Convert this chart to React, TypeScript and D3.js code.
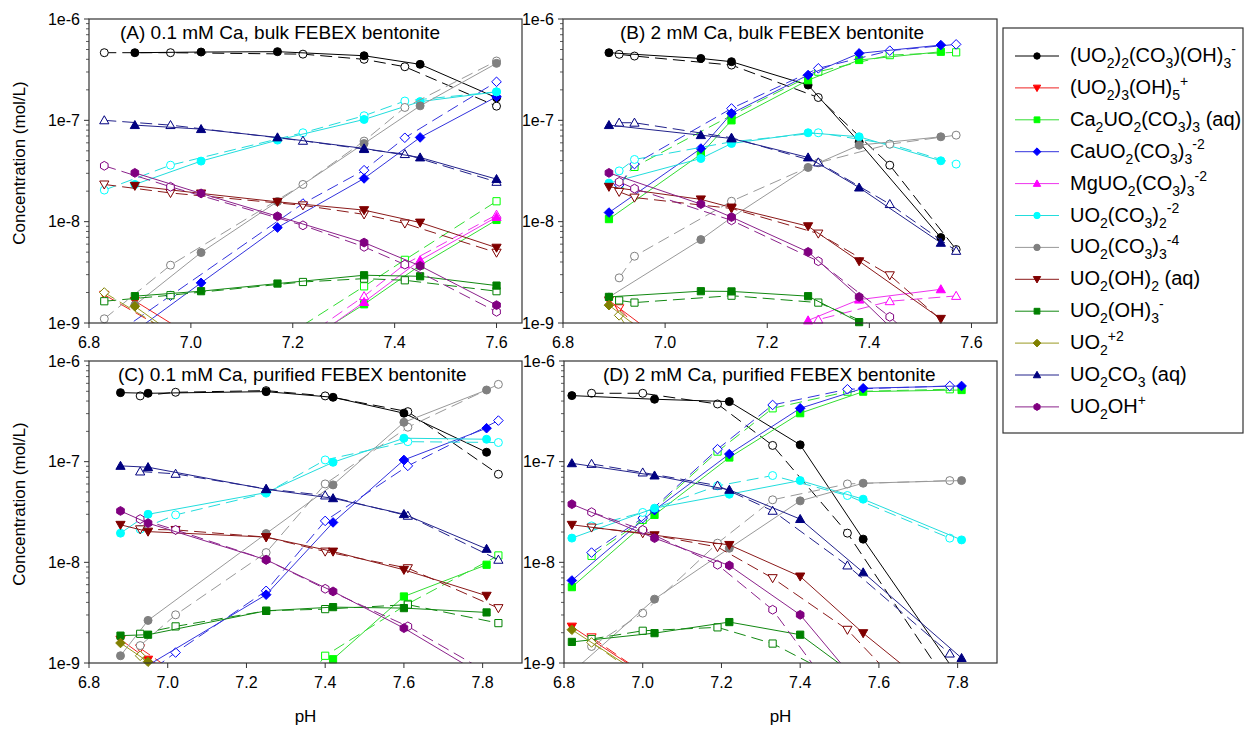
import React from 'react';
import * as d3 from 'd3';

// ---------- species ----------
const speciesColors = ['#000000', '#ff0000', '#00ff00', '#0000ff', '#ff00ff', '#00ffff', '#808080', '#800000', '#008000', '#808000', '#000080', '#800080'];
const lineColors = ['#000000', '#ee2222', '#33dd33', '#3333dd', '#ee33ee', '#22dddd', '#999999', '#8b1a1a', '#118811', '#999922', '#22228b', '#8b228b'];
const speciesShapes = ['circle', 'triDown', 'square', 'diamond', 'triUp', 'circle', 'circle', 'triDown', 'square', 'diamond', 'triUp', 'hexagon'];

type Seg = [string, string];
const speciesLabels: Seg[][] = [
  [['(UO', 'n'], ['2', 'b'], [')', 'n'], ['2', 'b'], ['(CO', 'n'], ['3', 'b'], [')(OH)', 'n'], ['3', 'b'], ['-', 'p']],
  [['(UO', 'n'], ['2', 'b'], [')', 'n'], ['3', 'b'], ['(OH)', 'n'], ['5', 'b'], ['+', 'p']],
  [['Ca', 'n'], ['2', 'b'], ['UO', 'n'], ['2', 'b'], ['(CO', 'n'], ['3', 'b'], [')', 'n'], ['3', 'b'], [' (aq)', 'n']],
  [['CaUO', 'n'], ['2', 'b'], ['(CO', 'n'], ['3', 'b'], [')', 'n'], ['3', 'b'], ['-2', 'p']],
  [['MgUO', 'n'], ['2', 'b'], ['(CO', 'n'], ['3', 'b'], [')', 'n'], ['3', 'b'], ['-2', 'p']],
  [['UO', 'n'], ['2', 'b'], ['(CO', 'n'], ['3', 'b'], [')', 'n'], ['2', 'b'], ['-2', 'p']],
  [['UO', 'n'], ['2', 'b'], ['(CO', 'n'], ['3', 'b'], [')', 'n'], ['3', 'b'], ['-4', 'p']],
  [['UO', 'n'], ['2', 'b'], ['(OH)', 'n'], ['2', 'b'], [' (aq)', 'n']],
  [['UO', 'n'], ['2', 'b'], ['(OH)', 'n'], ['3', 'b'], ['-', 'p']],
  [['UO', 'n'], ['2', 'b'], ['+2', 'p']],
  [['UO', 'n'], ['2', 'b'], ['CO', 'n'], ['3', 'b'], [' (aq)', 'n']],
  [['UO', 'n'], ['2', 'b'], ['OH', 'n'], ['+', 'p']],
];

const panelTitles = [
  '(A) 0.1 mM Ca, bulk FEBEX bentonite',
  '(B) 2 mM Ca, bulk FEBEX bentonite',
  '(C) 0.1 mM Ca, purified FEBEX bentonite',
  '(D) 2 mM Ca, purified FEBEX bentonite',
];

const xTicksAB = [6.8, 7.0, 7.2, 7.4, 7.6];
const xTicksCD = [6.8, 7.0, 7.2, 7.4, 7.6, 7.8];
const yTicks = [1e-9, 1e-8, 1e-7, 1e-6];

type Row = (number | null)[] | null;

// ---------- Panel A ----------
const phA_solid = [6.89, 7.02, 7.17, 7.34, 7.45, 7.60];
const phA_dashed = [6.83, 6.96, 7.22, 7.34, 7.42, 7.60];
const concA_solid: Row[] = [
  [4.65e-7, 4.72e-7, 4.76e-7, 4.34e-7, 3.57e-7, 1.67e-7],
  [1.65e-9, 6.5e-10, null, null, null, null],
  [null, null, 4.4e-10, 1.53e-9, 3.7e-9, 1.04e-8],
  [8.3e-10, 2.49e-9, 8.75e-9, 2.67e-8, 6.78e-8, 1.71e-7],
  [null, null, 4e-10, 1.61e-9, 4.16e-9, 1.11e-8],
  [2.33e-8, 3.96e-8, 6.38e-8, 1.02e-7, 1.53e-7, 1.91e-7],
  [1.5e-9, 4.96e-9, 1.58e-8, 5.9e-8, 1.39e-7, 3.65e-7],
  [2.26e-8, 1.9e-8, 1.57e-8, 1.3e-8, 9.8e-9, 5.54e-9],
  [1.84e-9, 2.06e-9, 2.45e-9, 2.96e-9, 2.89e-9, 2.34e-9],
  [1.46e-9, 5e-10, null, null, null, null],
  [8.97e-8, 8.19e-8, 6.78e-8, 5.28e-8, 4.3e-8, 2.63e-8],
  [3.03e-8, 1.9e-8, 1.13e-8, 6.22e-9, 3.66e-9, 1.5e-9],
];
const concA_dashed: Row[] = [
  [4.65e-7, 4.65e-7, 4.5e-7, 4.0e-7, 3.38e-7, 1.38e-7],
  [1.9e-9, 8e-10, null, null, null, null],
  [null, null, 9.5e-10, 2.3e-9, 4.2e-9, 1.59e-8],
  [6.5e-10, 1.86e-9, 1.51e-8, 3.22e-8, 6.73e-8, 2.4e-7],
  [null, null, 7e-10, 1.84e-9, 3.8e-9, 1.17e-8],
  [2.05e-8, 3.61e-8, 7.54e-8, 1.11e-7, 1.55e-7, 1.91e-7],
  [1.1e-9, 3.72e-9, 2.33e-8, 6.24e-8, 1.34e-7, 3.85e-7],
  [2.33e-8, 1.92e-8, 1.45e-8, 1.18e-8, 9.6e-9, 4.95e-9],
  [1.64e-9, 1.88e-9, 2.54e-9, 2.74e-9, 2.64e-9, 2.06e-9],
  [2.0e-9, 8e-10, null, null, null, null],
  [1.0e-7, 8.97e-8, 6.28e-8, 5.2e-8, 4.64e-8, 2.47e-8],
  [3.56e-8, 2.21e-8, 9.2e-9, 5.64e-9, 3.77e-9, 1.29e-9],
];

// ---------- Panel B ----------
const phB_solid = [6.89, 7.07, 7.13, 7.28, 7.38, 7.54];
const phB_dashed = [6.91, 6.94, 7.13, 7.30, 7.44, 7.57];
const concB_solid: Row[] = [
  [4.65e-7, 4.08e-7, 3.79e-7, 2.23e-7, 6.1e-8, 6.97e-9],
  [1.67e-9, 3.5e-10, null, null, null, null],
  [1.06e-8, 4.63e-8, 1.0e-7, 2.49e-7, 3.94e-7, 4.75e-7],
  [1.23e-8, 5.27e-8, 1.17e-7, 2.8e-7, 4.58e-7, 5.53e-7],
  [null, null, 3e-10, 1.06e-9, 1.7e-9, 2.15e-9],
  [2.4e-8, 4.2e-8, 5.91e-8, 7.54e-8, 6.88e-8, 3.99e-8],
  [1.8e-9, 6.65e-9, 1.1e-8, 3.43e-8, 5.69e-8, 6.88e-8],
  [2.21e-8, 1.66e-8, 1.38e-8, 9.02e-9, 4.07e-9, 1.1e-9],
  [1.81e-9, 2.06e-9, 2.05e-9, 1.84e-9, 1.02e-9, 2e-10],
  [1.5e-9, 3e-10, null, null, null, null],
  [8.97e-8, 7.14e-8, 6.62e-8, 4.3e-8, 2.17e-8, 6.18e-9],
  [3.03e-8, 1.49e-8, 1.11e-8, 5.03e-9, 1.81e-9, 3e-10],
];
const concB_dashed: Row[] = [
  [4.48e-7, 4.31e-7, 3.51e-7, 1.68e-7, 3.61e-8, 5.31e-9],
  [1.4e-9, 9.5e-10, 2e-10, null, null, null],
  [2.3e-8, 3.47e-8, 1.12e-7, 3.02e-7, 4.4e-7, 4.69e-7],
  [2.3e-8, 3.7e-8, 1.31e-7, 3.26e-7, 4.87e-7, 5.62e-7],
  [null, null, 3e-10, 1.08e-9, 1.64e-9, 1.85e-9],
  [3.17e-8, 4.11e-8, 6.14e-8, 7.54e-8, 5.82e-8, 3.7e-8],
  [2.79e-9, 4.56e-9, 1.59e-8, 3.81e-8, 5.82e-8, 7.14e-8],
  [1.97e-8, 1.73e-8, 1.35e-8, 7.64e-9, 2.96e-9, 8e-10],
  [1.67e-9, 1.59e-9, 1.86e-9, 1.59e-9, 8e-10, 3e-10],
  [1.19e-9, 7e-10, null, null, null, null],
  [9.47e-8, 9.47e-8, 6.73e-8, 3.84e-8, 1.49e-8, 5.15e-9],
  [2.47e-8, 2.12e-8, 1.03e-8, 4.07e-9, 1.15e-9, 3e-10],
];

// ---------- Panel C ----------
const phC_solid = [6.88, 6.95, 7.25, 7.42, 7.60, 7.81];
const phC_dashed = [6.93, 7.02, 7.25, 7.40, 7.61, 7.84];
const concC_solid: Row[] = [
  [4.85e-7, 4.78e-7, 4.96e-7, 4.36e-7, 3.03e-7, 1.24e-7],
  [1.71e-9, 1.08e-9, 2.9e-10, null, null, null],
  [null, null, 2e-10, 1.09e-9, 4.58e-9, 9.46e-9],
  [5e-10, 9.5e-10, 4.77e-9, 2.49e-8, 1.04e-7, 2.15e-7],
  null,
  [1.95e-8, 3.0e-8, 4.93e-8, 9.86e-8, 1.71e-7, 1.67e-7],
  [1.18e-9, 2.65e-9, 1.93e-8, 5.88e-8, 2.46e-7, 5.15e-7],
  [2.36e-8, 2.02e-8, 1.78e-8, 1.28e-8, 8.43e-9, 4.66e-9],
  [1.87e-9, 1.91e-9, 3.3e-9, 3.59e-9, 3.51e-9, 3.18e-9],
  [1.58e-9, 1.03e-9, 2e-10, null, null, null],
  [9.08e-8, 8.81e-8, 5.32e-8, 4.33e-8, 3.01e-8, 1.36e-8],
  [3.24e-8, 2.45e-8, 1.06e-8, 5.14e-9, 2.22e-9, 7.2e-10],
];
const concC_dashed: Row[] = [
  [4.5e-7, 4.89e-7, 5.08e-7, 4.5e-7, 3.14e-7, 7.5e-8],
  [1.4e-9, 8e-10, null, null, null, null],
  [null, null, 2e-10, 1.18e-9, 3.87e-9, 1.17e-8],
  [7e-10, 1.27e-9, 5.21e-9, 2.58e-8, 9.08e-8, 2.56e-7],
  null,
  [2.13e-8, 2.96e-8, 4.86e-8, 1.04e-7, 1.58e-7, 1.55e-7],
  [1.49e-9, 3.01e-9, 1.25e-8, 6.01e-8, 2.2e-7, 5.86e-7],
  [2.13e-8, 2.1e-8, 1.78e-8, 1.28e-8, 8.75e-9, 3.51e-9],
  [1.95e-9, 2.31e-9, 3.3e-9, 3.43e-9, 3.8e-9, 2.49e-9],
  [1.18e-9, 5e-10, null, null, null, null],
  [7.98e-8, 7.57e-8, 5.37e-8, 4.61e-8, 2.9e-8, 1.06e-8],
  [2.69e-8, 2.1e-8, 1.06e-8, 5.46e-9, 2.31e-9, 7e-10],
];

// ---------- Panel D ----------
const phD_solid = [6.82, 7.03, 7.22, 7.40, 7.56, 7.81];
const phD_dashed = [6.87, 7.00, 7.19, 7.33, 7.52, 7.78];
const concD_solid: Row[] = [
  [4.53e-7, 4.17e-7, 3.95e-7, 1.47e-7, 1.7e-8, 6.6e-10],
  [2.3e-9, 6.6e-10, null, null, null, null],
  [5.67e-9, 2.96e-8, 1.1e-7, 3.03e-7, 4.96e-7, 5.15e-7],
  [6.6e-9, 3.3e-8, 1.19e-7, 3.39e-7, 5.36e-7, 5.65e-7],
  null,
  [1.74e-8, 3.45e-8, 4.75e-8, 6.49e-8, 4.24e-8, 1.67e-8],
  [8.1e-10, 4.31e-9, 1.38e-8, 4.08e-8, 6.11e-8, 6.49e-8],
  [2.36e-8, 1.86e-8, 1.49e-8, 7.24e-9, 1.98e-9, 3.2e-10],
  [1.62e-9, 1.98e-9, 2.55e-9, 1.91e-9, 6.6e-10, null],
  [2.14e-9, 6.3e-10, null, null, null, null],
  [9.64e-8, 7.28e-8, 5.25e-8, 2.69e-8, 7.94e-9, 1.12e-9],
  [3.78e-8, 1.74e-8, 9.3e-9, 3.01e-9, 5.4e-10, null],
];
const concD_dashed: Row[] = [
  [4.78e-7, 4.78e-7, 3.74e-7, 1.45e-7, 1.95e-8, 5.9e-10],
  [1.8e-9, 8e-10, null, null, null, null],
  [1.16e-8, 2.64e-8, 1.26e-7, 3.39e-7, 4.96e-7, 5.24e-7],
  [1.25e-8, 2.75e-8, 1.33e-7, 3.66e-7, 5.24e-7, 5.65e-7],
  null,
  [2.3e-8, 3.13e-8, 5.75e-8, 7.28e-8, 4.61e-8, 1.74e-8],
  [1.46e-9, 3.13e-9, 1.55e-8, 4.18e-8, 6.01e-8, 6.49e-8],
  [2.22e-8, 1.95e-8, 1.42e-8, 6.97e-9, 2.14e-9, 1.8e-10],
  [1.73e-9, 2.09e-9, 2.26e-9, 1.56e-9, 6.4e-10, null],
  [1.6e-9, 7e-10, null, null, null, null],
  [9.5e-8, 7.8e-8, 5.79e-8, 3.25e-8, 9.3e-9, 1.24e-9],
  [3.15e-8, 2.1e-8, 9.46e-9, 3.38e-9, 3.3e-10, null],
];

// ---------- layout ----------
const FONT = 'Liberation Sans, Arial, Helvetica, sans-serif';

const panels = [
  { key: 'A', left: 89, top: 19, right: 522, bottom: 323, xMax: 7.65, ticks: xTicksAB, phS: phA_solid, phD: phA_dashed, cS: concA_solid, cD: concA_dashed, titleX: 120, yLab: true, xLab: false },
  { key: 'B', left: 563, top: 19, right: 997, bottom: 323, xMax: 7.65, ticks: xTicksAB, phS: phB_solid, phD: phB_dashed, cS: concB_solid, cD: concB_dashed, titleX: 620, yLab: false, xLab: false },
  { key: 'C', left: 89, top: 361, right: 522, bottom: 663, xMax: 7.9, ticks: xTicksCD, phS: phC_solid, phD: phC_dashed, cS: concC_solid, cD: concC_dashed, titleX: 118, yLab: true, xLab: true },
  { key: 'D', left: 564, top: 361, right: 997, bottom: 663, xMax: 7.9, ticks: xTicksCD, phS: phD_solid, phD: phD_dashed, cS: concD_solid, cD: concD_dashed, titleX: 603, yLab: false, xLab: true },
];

function symbolPath(shape: string, s: number): string {
  switch (shape) {
    case 'circle': {
      const r = 4 * s;
      return `M${r},0A${r},${r} 0 1,1 ${-r},0A${r},${r} 0 1,1 ${r},0Z`;
    }
    case 'square': {
      const r = 3.6 * s;
      return `M${-r},${-r}H${r}V${r}H${-r}Z`;
    }
    case 'diamond': {
      const d = 4.8 * s;
      return `M0,${-d}L${d},0L0,${d}L${-d},0Z`;
    }
    case 'triUp': {
      const h = 4.6 * s;
      return `M0,${-h}L${h},${h * 0.75}L${-h},${h * 0.75}Z`;
    }
    case 'triDown': {
      const h = 4.6 * s;
      return `M0,${h}L${h},${-h * 0.75}L${-h},${-h * 0.75}Z`;
    }
    case 'hexagon': {
      const r = 4.4 * s;
      const pts = d3.range(6).map((i) => {
        const a = Math.PI / 2 + (i * Math.PI) / 3;
        return `${(r * Math.cos(a)).toFixed(2)},${(r * Math.sin(a)).toFixed(2)}`;
      });
      return `M${pts.join('L')}Z`;
    }
  }
  return '';
}

function RichText({ segs, x, y, size }: { segs: Seg[]; x: number; y: number; size: number }) {
  let cur = 0;
  const spans = segs.map(([t, k], i) => {
    const target = k === 'b' ? size * 0.3 : k === 'p' ? -size * 0.42 : 0;
    const dy = target - cur;
    cur = target;
    const fs = k === 'n' ? size : size * 0.7;
    return (
      <tspan key={i} dy={dy} fontSize={fs}>
        {t}
      </tspan>
    );
  });
  return (
    <text x={x} y={y} fontSize={size} fontFamily={FONT} fill="#000" style={{ whiteSpace: 'pre' }}>
      {spans}
    </text>
  );
}

function Panel({ p, idx }: { p: (typeof panels)[number]; idx: number }) {
  const x = d3.scaleLinear().domain([6.8, p.xMax]).range([p.left, p.right]);
  const y = d3.scaleLog().domain([1e-9, 1e-6]).range([p.bottom, p.top]);
  const clipId = `clip-${p.key}`;
  const line = d3
    .line<[number, number | null]>()
    .defined((d) => d[1] != null)
    .x((d) => x(d[0]))
    .y((d) => y(d[1] as number));

  const minor: number[] = [];
  for (let e = -9; e < -6; e++) for (let m = 2; m <= 9; m++) minor.push(m * Math.pow(10, e));

  const series: JSX.Element[] = [];
  speciesColors.forEach((col, si) => {
    const groups: [number[], Row[], boolean][] = [
      [p.phD, p.cD, true],
      [p.phS, p.cS, false],
    ];
    groups.forEach(([ph, conc, dashed]) => {
      const row = conc[si];
      if (!row) return;
      const pts: [number, number | null][] = ph.map((v, i) => [v, row[i]]);
      series.push(
        <path
          key={`l-${si}-${dashed}`}
          d={line(pts) || ''}
          fill="none"
          stroke={lineColors[si]}
          strokeWidth={1}
          strokeDasharray={dashed ? '12,6' : undefined}
          clipPath={`url(#${clipId})`}
        />
      );
      pts.forEach(([px, py], i) => {
        if (py == null || py < 0.97e-9 || py > 1.0e-6) return;
        series.push(
          <path
            key={`m-${si}-${dashed}-${i}`}
            transform={`translate(${x(px)},${y(py)})`}
            d={symbolPath(speciesShapes[si], 1)}
            fill={dashed ? '#ffffff' : col}
            stroke={col}
            strokeWidth={1}
          />
        );
      });
    });
  });

  return (
    <g>
      <defs>
        <clipPath id={clipId}>
          <rect x={p.left} y={p.top} width={p.right - p.left} height={p.bottom - p.top} />
        </clipPath>
      </defs>
      {series}
      <rect x={p.left} y={p.top} width={p.right - p.left} height={p.bottom - p.top} fill="none" stroke="#333" strokeWidth={1.2} />
      {yTicks.map((t) => (
        <g key={`yt-${t}`}>
          <line x1={p.left - 5} x2={p.left} y1={y(t)} y2={y(t)} stroke="#333" strokeWidth={1} />
          <text x={p.left - 9} y={y(t)} dy="0.35em" textAnchor="end" fontSize={16} fontFamily={FONT} fill="#000">
            {`1e${Math.round(Math.log10(t))}`}
          </text>
        </g>
      ))}
      {minor.map((t) => (
        <line key={`ym-${t}`} x1={p.left - 3} x2={p.left} y1={y(t)} y2={y(t)} stroke="#333" strokeWidth={0.8} />
      ))}
      {p.ticks.map((t) => (
        <g key={`xt-${t}`}>
          <line x1={x(t)} x2={x(t)} y1={p.bottom} y2={p.bottom + 5} stroke="#333" strokeWidth={1} />
          <text x={x(t)} y={p.bottom + 25} textAnchor="middle" fontSize={16} fontFamily={FONT} fill="#000">
            {d3.format('.1f')(t)}
          </text>
        </g>
      ))}
      <text x={p.titleX} y={p.top + 20} fontSize={19} fontFamily={FONT} fill="#000">
        {panelTitles[idx]}
      </text>
      {p.yLab && (
        <text
          transform={`translate(25,${(p.top + p.bottom) / 2 - 8}) rotate(-90)`}
          textAnchor="middle"
          fontSize={17}
          fontFamily={FONT}
          fill="#000"
        >
          Concentration (mol/L)
        </text>
      )}
      {p.xLab && (
        <text x={(p.left + p.right) / 2} y={p.bottom + 59} textAnchor="middle" fontSize={17} fontFamily={FONT} fill="#000">
          pH
        </text>
      )}
    </g>
  );
}

function Legend() {
  const top = 56;
  const step = 31.9;
  return (
    <g>
      <rect x={1003} y={28} width={240} height={405} fill="#fff" stroke="#333" strokeWidth={1.2} />
      {speciesLabels.map((segs, i) => {
        const yy = top + i * step;
        return (
          <g key={`lg-${i}`}>
            <line x1={1015} x2={1059} y1={yy} y2={yy} stroke={lineColors[i]} strokeWidth={1} />
            <path transform={`translate(1037,${yy})`} d={symbolPath(speciesShapes[i], 0.8)} fill={speciesColors[i]} stroke={speciesColors[i]} strokeWidth={1} />
            <RichText segs={segs} x={1070} y={yy + 6} size={20} />
          </g>
        );
      })}
    </g>
  );
}

export default function App() {
  return (
    <svg
      width={1244}
      height={730}
      viewBox="0 0 1244 730"
      style={{ position: 'absolute', left: 0, top: 0, background: '#fff' }}
      xmlns="http://www.w3.org/2000/svg"
    >
      <rect x={0} y={0} width={1244} height={730} fill="#fff" />
      {panels.map((p, i) => (
        <Panel key={p.key} p={p} idx={i} />
      ))}
      <Legend />
    </svg>
  );
}
